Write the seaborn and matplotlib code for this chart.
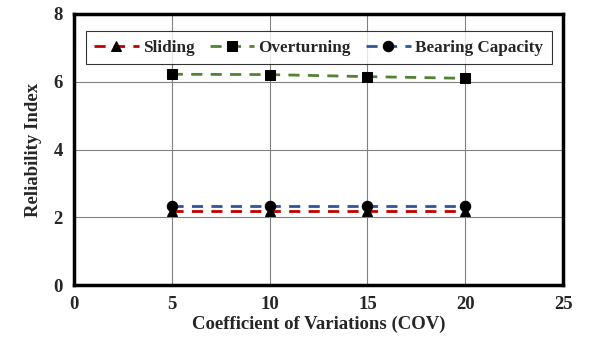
import matplotlib
matplotlib.use("Agg")
import matplotlib.pyplot as plt
import seaborn as sns
import pandas as pd

cov = [5, 10, 15, 20]
sliding = [2.20, 2.20, 2.20, 2.20]
overturning = [6.22, 6.21, 6.15, 6.10]
bearing = [2.33, 2.33, 2.33, 2.33]

series_names = ["Sliding", "Overturning", "Bearing Capacity"]
colors = ["#C00000", "#548235", "#2F5597"]
markers = ["^", "s", "o"]

sns.set_style("white")
plt.rcParams['font.family'] = ['Liberation Serif', 'DejaVu Serif']
plt.rcParams['font.weight'] = 'bold'

df = pd.DataFrame({
    "COV": cov * 3,
    "value": sliding + overturning + bearing,
    "series": sum([[n] * len(cov) for n in series_names], []),
})

fig = plt.figure(figsize=(5.96, 3.47), dpi=100)
ax = fig.add_axes([0.124, 0.178, 0.821, 0.782])

for name, c, m in zip(series_names, colors, markers):
    sub = df[df.series == name]
    sns.lineplot(data=sub, x="COV", y="value", ax=ax, color=c, linestyle=(0, (4, 3)),
                 linewidth=2, marker=m, markersize=7.5, markerfacecolor="black",
                 markeredgecolor="black", label=name)

ax.set_xlim(0, 25)
ax.set_ylim(0, 8)
ax.set_xticks([0, 5, 10, 15, 20, 25])
ax.set_yticks([0, 2, 4, 6, 8])
ax.grid(True, color="#808080", linewidth=0.8)
for s in ax.spines.values():
    s.set_visible(True)
    s.set_color("black")
    s.set_linewidth(2.5)
ax.tick_params(labelsize=13.5, length=0, pad=8)
for lab in ax.get_xticklabels() + ax.get_yticklabels():
    lab.set_fontweight("bold")
ax.set_xlabel("Coefficient of Variations (COV)", fontsize=13.5, fontweight="bold", labelpad=2)
ax.set_ylabel("Reliability Index", fontsize=13.5, fontweight="bold", labelpad=8)

leg = ax.legend(loc="upper center", bbox_to_anchor=(0.5, 0.967), ncol=3, frameon=True,
                fancybox=False, edgecolor="black", handlelength=2.6,
                columnspacing=0.9, handletextpad=0.25, borderpad=0.5,
                prop={"weight": "bold", "size": 12.3})
leg.get_frame().set_linewidth(0.8)

fig.savefig("out.png", dpi=100, facecolor="white")
